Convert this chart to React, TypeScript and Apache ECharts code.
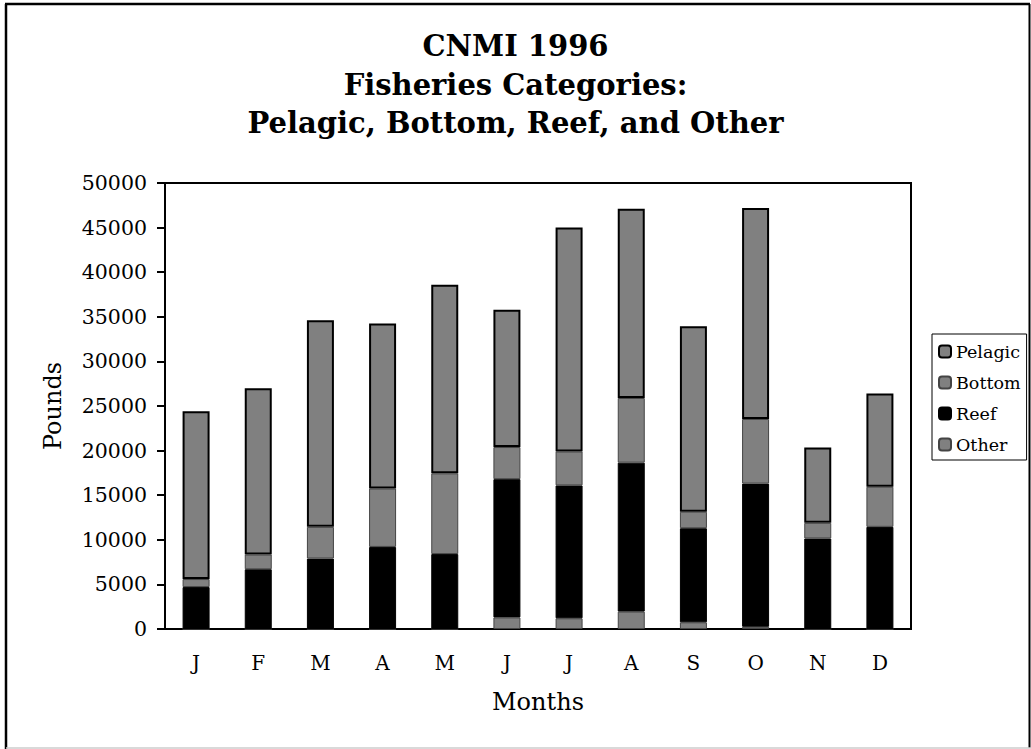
import React, { useEffect, useRef } from "react";
import * as echarts from "echarts";

const months = ["J", "F", "M", "A", "M", "J", "J", "A", "S", "O", "N", "D"];
const otherLbs = [0, 0, 0, 0, 0, 1300, 1200, 1950, 750, 250, 0, 0];
const reefLbs = [4700, 6700, 7900, 9200, 8400, 15500, 14900, 16700, 10550, 16050, 10150, 11450];
const bottomLbs = [900, 1650, 3550, 6550, 9050, 3600, 3800, 7250, 1850, 7250, 1750, 4500];
const pelagicLbs = [18800, 18650, 23150, 18500, 21150, 15400, 25100, 21200, 20800, 23650, 8450, 10450];
const legendOrder = ["Pelagic", "Bottom", "Reef", "Other"];
const titleLines = ["CNMI 1996", "Fisheries Categories:", "Pelagic, Bottom, Reef, and Other"];

const FONT = "DejaVu Serif";

export default function App() {
  const ref = useRef<HTMLDivElement>(null);
  useEffect(() => {
    if (!ref.current) return;
    const chart = echarts.init(ref.current, null, { renderer: "svg" });
    const grey = "#808080";
    const legendText = { fontFamily: FONT, fontSize: 17.5, lineHeight: 19, color: "#000" };
    chart.setOption({
      animation: false,
      backgroundColor: "#fff",
      textStyle: { fontFamily: FONT, color: "#000" },
      title: {
        text: titleLines.join("\n"),
        left: "center",
        top: 22,
        textStyle: {
          fontFamily: FONT,
          fontWeight: "bold",
          fontSize: 29,
          lineHeight: 38.5,
          color: "#000",
        },
      },
      legend: {
        data: legendOrder,
        orient: "vertical",
        left: 932,
        top: 334,
        padding: [8, 6, 6, 6],
        itemWidth: 12,
        itemHeight: 12,
        itemGap: 12,
        borderColor: "#000",
        borderWidth: 1,
        textStyle: legendText,
      },
      grid: {
        left: 165,
        right: 120,
        top: 183,
        bottom: 120,
        show: true,
        borderColor: "#000",
        borderWidth: 2,
        backgroundColor: "transparent",
      },
      xAxis: {
        type: "category",
        data: months,
        axisLine: { lineStyle: { color: "#000", width: 2 } },
        axisTick: { show: false },
        axisLabel: { fontFamily: FONT, fontSize: 20, color: "#000", margin: 24 },
        name: "Months",
        nameLocation: "middle",
        nameGap: 61,
        nameTextStyle: { fontFamily: FONT, fontSize: 24, color: "#000" },
      },
      yAxis: {
        type: "value",
        min: 0,
        max: 50000,
        interval: 5000,
        splitLine: { show: false },
        axisLine: { show: true, lineStyle: { color: "#000", width: 2 } },
        axisTick: { show: true, length: 8, lineStyle: { color: "#000", width: 2 } },
        axisLabel: {
          fontFamily: FONT,
          fontSize: 20.5,
          color: "#000",
          margin: 18,
          formatter: (v: number) => String(v),
        },
        name: "Pounds",
        nameLocation: "middle",
        nameRotate: 90,
        nameGap: 100,
        nameTextStyle: { fontFamily: FONT, fontSize: 24, color: "#000" },
      },
      series: [
        {
          name: "Other",
          type: "bar",
          stack: "total",
          barWidth: 27,
          data: otherLbs,
          itemStyle: { color: grey, borderColor: "#444", borderWidth: 1 },
        },
        {
          name: "Reef",
          type: "bar",
          stack: "total",
          barWidth: 27,
          data: reefLbs,
          itemStyle: { color: "#000", borderColor: "#000", borderWidth: 1 },
        },
        {
          name: "Bottom",
          type: "bar",
          stack: "total",
          barWidth: 27,
          data: bottomLbs,
          itemStyle: { color: grey, borderColor: "#444", borderWidth: 1 },
        },
        {
          name: "Pelagic",
          type: "bar",
          stack: "total",
          barWidth: 27,
          data: pelagicLbs,
          itemStyle: { color: grey, borderColor: "#000", borderWidth: 2 },
        },
      ],
      graphic: [
        { type: "line", shape: { x1: 6, y1: 4, x2: 6, y2: 749 }, style: { stroke: "#000", lineWidth: 2.5 } },
        { type: "line", shape: { x1: 5, y1: 4, x2: 1030, y2: 4 }, style: { stroke: "#000", lineWidth: 2.5 } },
        { type: "line", shape: { x1: 1029.5, y1: 4, x2: 1029.5, y2: 748 }, style: { stroke: "#000", lineWidth: 2 } },
        { type: "line", shape: { x1: 6, y1: 748, x2: 1031, y2: 748 }, style: { stroke: "#ccc", lineWidth: 1.5 } },
      ],
    });
    return () => chart.dispose();
  }, []);
  return (
    <div
      ref={ref}
      style={{ position: "fixed", left: 0, top: 0, width: 1031, height: 749 }}
    />
  );
}
